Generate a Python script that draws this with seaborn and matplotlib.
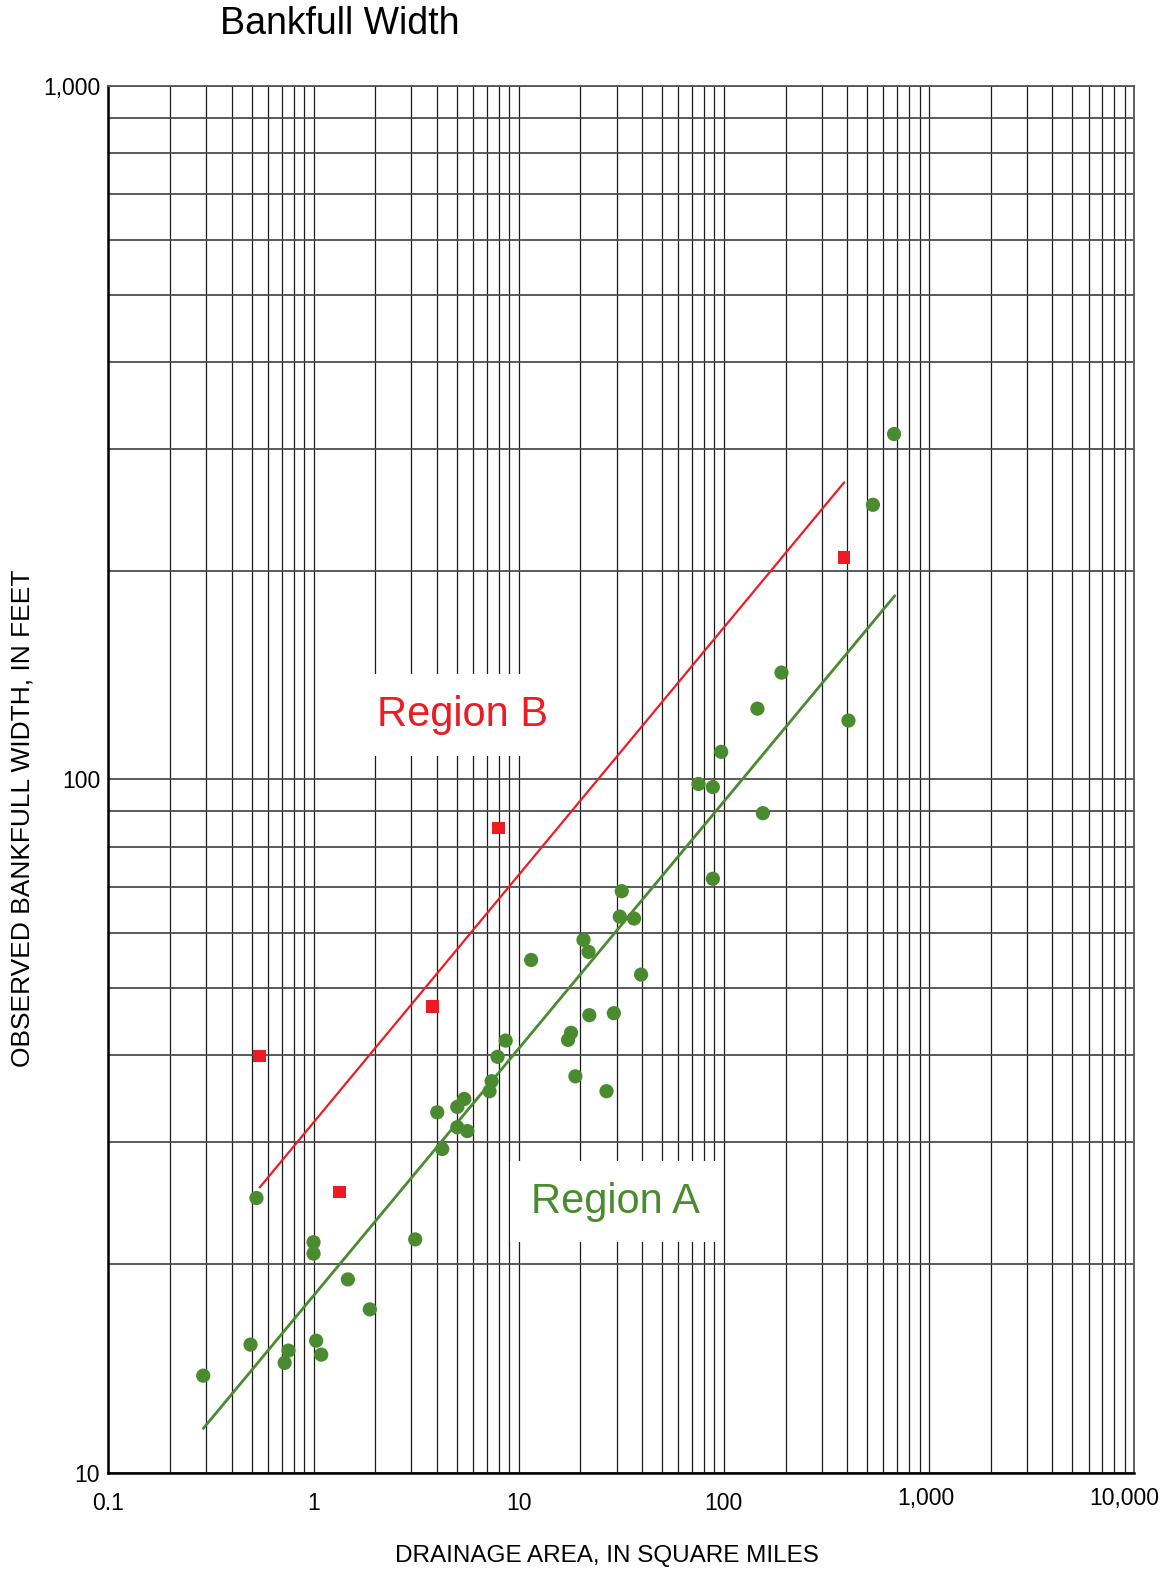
import numpy as np
import pandas as pd
import matplotlib
matplotlib.use('Agg')
import matplotlib.pyplot as plt
import matplotlib.transforms as mtransforms
import seaborn as sns
from matplotlib.ticker import FixedLocator, LogLocator, NullFormatter

# Region A sites (green dots)
area_a = [0.29, 0.493, 0.527, 0.723, 0.755, 1.0, 1.0, 1.03, 1.09, 1.47, 1.88,
          3.13, 4.01, 4.24, 5.02, 5.02, 5.43, 5.62, 7.21, 7.38, 7.89, 8.64,
          11.5, 17.4, 18.0, 18.9, 20.7, 21.9, 22.1, 26.8, 29.1, 31.1, 31.8,
          36.5, 39.5, 75.3, 88.4, 88.4, 97.1, 145.8, 155, 191, 405, 533, 676]
width_a = [13.8, 15.3, 24.9, 14.4, 15.0, 21.5, 20.7, 15.5, 14.8, 19.0, 17.2,
           21.7, 33.1, 29.3, 33.7, 31.5, 34.6, 31.1, 35.5, 36.7, 39.8, 42.0,
           54.9, 42.1, 43.1, 37.3, 58.7, 56.4, 45.7, 35.5, 46.0, 63.4, 69.0,
           63.0, 52.3, 98.5, 97.5, 71.9, 109.6, 126.5, 89.4, 142.6, 121.6, 249, 315]

# Region B sites (red squares)
area_b = [0.546, 1.34, 3.79, 7.98, 385]
width_b = [39.9, 25.4, 47.1, 85.1, 209]

# regression curves  width = coef * area ** expo
coef_a, expo_a, range_a = 18.0, 0.3564, [0.29, 681]
coef_b, expo_b, range_b = 32.0, 0.357, [0.546, 386]

x_ticks = [0.1, 1, 10, 100, 1000, 10000]
x_labels = ['0.1', '1', '10', '100', '1,000', '10,000']
y_ticks = [10, 100, 1000]
y_labels = ['10', '100', '1,000']

green = '#4a8b30'
red = '#ed1c24'

sns.set_style('white')
plt.rcParams['font.family'] = ['Liberation Sans', 'DejaVu Sans']
plt.rcParams['text.color'] = 'black'
plt.rcParams['xtick.color'] = 'black'
plt.rcParams['ytick.color'] = 'black'

df_a = pd.DataFrame({'area': area_a, 'width': width_a})
df_b = pd.DataFrame({'area': area_b, 'width': width_b})
ra = np.array(range_a)
rb = np.array(range_b)
fit_a = pd.DataFrame({'area': ra, 'width': coef_a * ra ** expo_a})
fit_b = pd.DataFrame({'area': rb, 'width': coef_b * rb ** expo_b})

fig = plt.figure(figsize=(11.68, 15.74), dpi=100)
ax = fig.add_axes([0.0928, 0.0644, 0.971 - 0.0928, 0.9452 - 0.0644])
ax.set_xscale('log')
ax.set_yscale('log')
ax.set_xlim(0.1, 10000)
ax.set_ylim(10, 1000)

# log grid
ax.xaxis.set_minor_locator(LogLocator(base=10, subs=np.arange(2, 10)))
ax.yaxis.set_minor_locator(LogLocator(base=10, subs=np.arange(2, 10)))
ax.xaxis.set_minor_formatter(NullFormatter())
ax.yaxis.set_minor_formatter(NullFormatter())
ax.grid(True, which='both', axis='x', color='#1a1a1a', linewidth=0.9)
ax.grid(True, which='both', axis='y', color='#4d4d4d', linewidth=1.3)
ax.set_axisbelow(True)

sns.lineplot(data=fit_b, x='area', y='width', color=red, linewidth=1.6, ax=ax)
sns.lineplot(data=fit_a, x='area', y='width', color=green, linewidth=2.0, ax=ax)
sns.scatterplot(data=df_a, x='area', y='width', color=green, s=105,
                edgecolor='none', zorder=3, ax=ax)
sns.scatterplot(data=df_b, x='area', y='width', color=red, marker='s', s=85,
                edgecolor='none', zorder=3, ax=ax)

ax.text(5.31, 124, 'Region B', color=red, fontsize=30, ha='center', va='center',
        bbox=dict(boxstyle='square,pad=0.5', fc='white', ec='none'), zorder=4)
ax.text(29.7, 24.6, 'Region A', color=green, fontsize=30, ha='center', va='center',
        bbox=dict(boxstyle='square,pad=0.5', fc='white', ec='none'), zorder=4)

ax.xaxis.set_major_locator(FixedLocator(x_ticks))
ax.set_xticklabels(x_labels, fontsize=16.5)
ax.yaxis.set_major_locator(FixedLocator(y_ticks))
ax.set_yticklabels(y_labels, fontsize=16.5)
ax.tick_params(axis='x', which='both', length=0, pad=14)
ax.tick_params(axis='y', which='major', direction='out', length=4, width=1.3,
               color='#333333', pad=2)
ax.tick_params(axis='y', which='minor', length=0)

# the two large labels sit a little higher / left in the original
xt = ax.get_xticklabels()
xt[4].set_transform(xt[4].get_transform() +
                    mtransforms.ScaledTranslation(-0.03, 0.05, fig.dpi_scale_trans))
xt[5].set_transform(xt[5].get_transform() +
                    mtransforms.ScaledTranslation(-0.10, 0.05, fig.dpi_scale_trans))

ax.set_xlabel('')
ax.set_ylabel('')
for side in ['left', 'bottom']:
    ax.spines[side].set_color('black')
    ax.spines[side].set_linewidth(1.8)
for side in ['top', 'right']:
    ax.spines[side].set_color('#555555')
    ax.spines[side].set_linewidth(1.3)

fig.text(0.291, 0.985, 'Bankfull Width', fontsize=27, ha='center', va='center')
fig.text(0.520, 0.0114, 'DRAINAGE AREA, IN SQUARE MILES',
         fontsize=17.5, ha='center', va='center')
fig.text(0.0189, 0.480, 'OBSERVED BANKFULL WIDTH, IN FEET',
         fontsize=19, ha='center', va='center', rotation=90)

fig.savefig('out.png', dpi=100, facecolor='white')
